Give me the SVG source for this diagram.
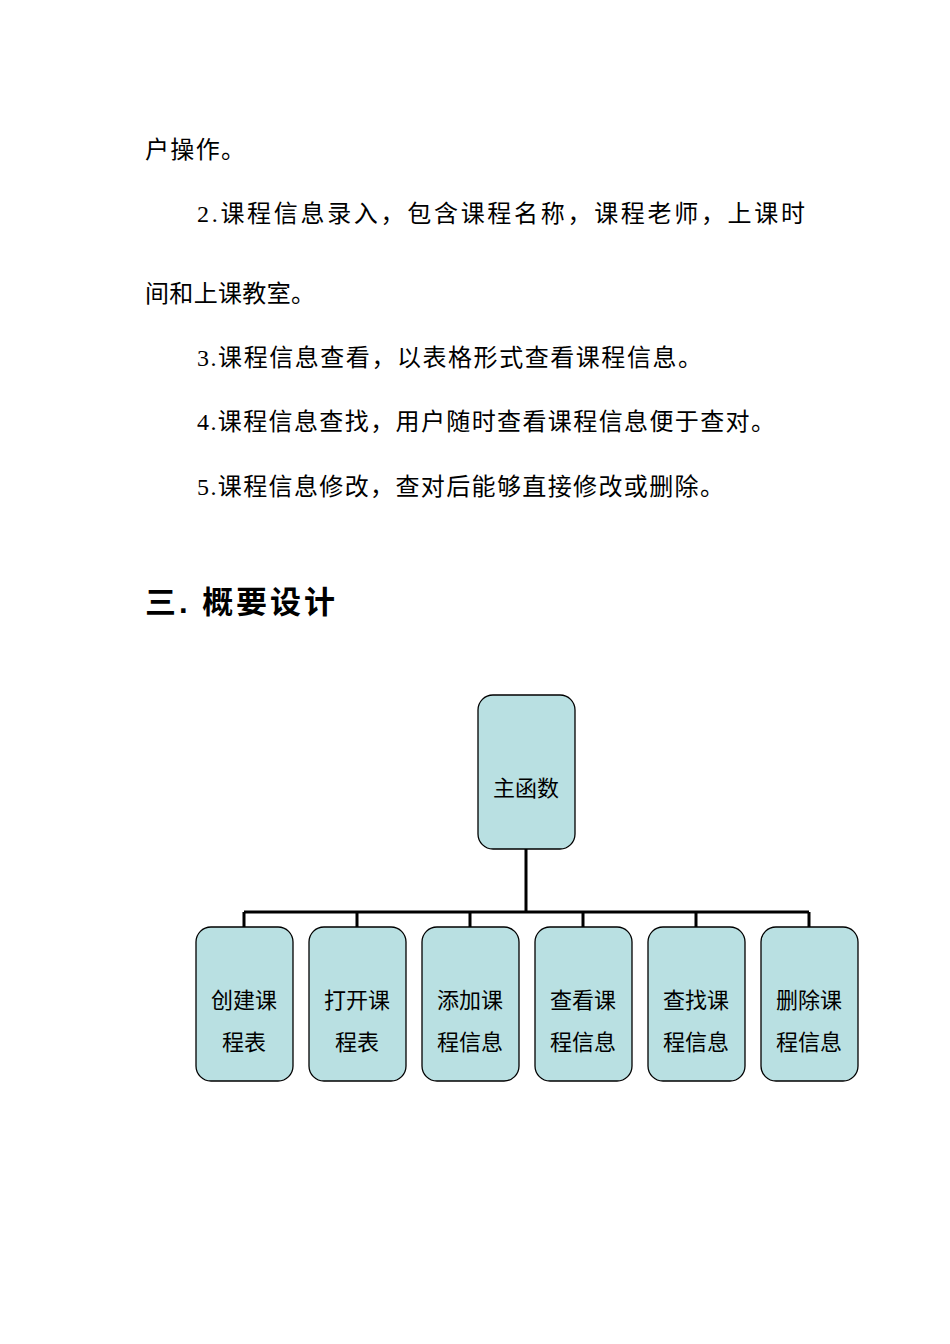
<svg xmlns="http://www.w3.org/2000/svg" width="950" height="1344" viewBox="0 0 950 1344">
<style>
.t{font-family:"Liberation Serif","Noto Sans CJK SC",serif;font-size:24px;fill:#000}
.h{font-family:"Liberation Sans","Noto Sans CJK SC",sans-serif;font-size:31px;font-weight:bold;fill:#000}
.b{fill:#b9e0e2;stroke:#000;stroke-width:1.3}
.n{font-family:"Liberation Serif","Noto Sans CJK SC",serif;font-size:22px;fill:#000;text-anchor:middle}
.c{stroke:#000;stroke-width:3;fill:none}
</style>
<rect width="950" height="1344" fill="#fff"/>
<text class="t" x="145" y="158" textLength="100" lengthAdjust="spacing">户操作。</text>
<text class="t" x="197" y="222" textLength="608" lengthAdjust="spacing">2.课程信息录入，包含课程名称，课程老师，上课时</text>
<text class="t" x="145" y="302" textLength="170" lengthAdjust="spacing">间和上课教室。</text>
<text class="t" x="197" y="366" textLength="505" lengthAdjust="spacing">3.课程信息查看，以表格形式查看课程信息。</text>
<text class="t" x="197" y="430" textLength="578" lengthAdjust="spacing">4.课程信息查找，用户随时查看课程信息便于查对。</text>
<text class="t" x="197" y="495" textLength="527" lengthAdjust="spacing">5.课程信息修改，查对后能够直接修改或删除。</text>
<text class="h" x="145" y="613" textLength="190" lengthAdjust="spacing">三. 概要设计</text>
<g id="connectors">
<path class="c" d="M526 849V912M244 912H809M244 912V927M357 912V927M470 912V927M583 912V927M696 912V927M809 912V927"/>
</g>
<g id="root"><rect class="b" x="478" y="695" width="97" height="154" rx="15"/><text class="n" x="526" y="796">主函数</text></g>
<g id="n1"><rect class="b" x="196" y="927" width="97" height="154" rx="15"/><text class="n" x="244" y="1008">创建课</text><text class="n" x="244" y="1050">程表</text></g>
<g id="n2"><rect class="b" x="309" y="927" width="97" height="154" rx="15"/><text class="n" x="357" y="1008">打开课</text><text class="n" x="357" y="1050">程表</text></g>
<g id="n3"><rect class="b" x="422" y="927" width="97" height="154" rx="15"/><text class="n" x="470" y="1008">添加课</text><text class="n" x="470" y="1050">程信息</text></g>
<g id="n4"><rect class="b" x="535" y="927" width="97" height="154" rx="15"/><text class="n" x="583" y="1008">查看课</text><text class="n" x="583" y="1050">程信息</text></g>
<g id="n5"><rect class="b" x="648" y="927" width="97" height="154" rx="15"/><text class="n" x="696" y="1008">查找课</text><text class="n" x="696" y="1050">程信息</text></g>
<g id="n6"><rect class="b" x="761" y="927" width="97" height="154" rx="15"/><text class="n" x="809" y="1008">删除课</text><text class="n" x="809" y="1050">程信息</text></g>
</svg>
